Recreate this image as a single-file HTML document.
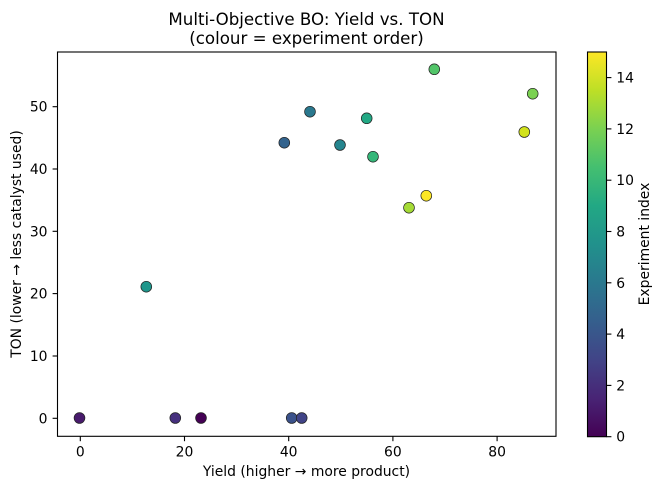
<!DOCTYPE html>
<html>
<head>
<meta charset="utf-8">
<style>
html,body{margin:0;padding:0;background:#fff;}
svg{display:block;}
text{font-family:"DejaVu Sans","Liberation Sans",sans-serif;fill:#000;}
</style>
</head>
<body>
<svg width="662" height="489" viewBox="0 0 662 489" xmlns="http://www.w3.org/2000/svg">
<defs>
<linearGradient id="vir" x1="0" y1="1" x2="0" y2="0">
<stop offset="0" stop-color="#440154"/>
<stop offset="0.1" stop-color="#482475"/>
<stop offset="0.2" stop-color="#414487"/>
<stop offset="0.3" stop-color="#355f8d"/>
<stop offset="0.4" stop-color="#2a788e"/>
<stop offset="0.5" stop-color="#21918c"/>
<stop offset="0.6" stop-color="#22a884"/>
<stop offset="0.7" stop-color="#44bf70"/>
<stop offset="0.8" stop-color="#7ad151"/>
<stop offset="0.9" stop-color="#bddf26"/>
<stop offset="1" stop-color="#fde725"/>
</linearGradient>
</defs>
<rect width="662" height="489" fill="#fff"/>

<!-- Title -->
<text x="306.5" y="25" font-size="16.67" text-anchor="middle">Multi-Objective BO: Yield vs. TON</text>
<text x="306.5" y="44" font-size="16.67" text-anchor="middle">(colour = experiment order)</text>

<!-- Points -->
<g stroke="#222" stroke-width="0.7">
<circle cx="201" cy="418" r="5.4" fill="#440154"/>
<circle cx="79.5" cy="418" r="5.4" fill="#481a6c"/>
<circle cx="175.3" cy="418" r="5.4" fill="#46307e"/>
<circle cx="291.7" cy="418" r="5.4" fill="#3b528b"/>
<circle cx="301.7" cy="418" r="5.4" fill="#414487"/>
<circle cx="284.3" cy="142.7" r="5.4" fill="#33638d"/>
<circle cx="310" cy="111.7" r="5.4" fill="#2a788e"/>
<circle cx="340" cy="145" r="5.4" fill="#25858e"/>
<circle cx="146.3" cy="286.7" r="5.4" fill="#1f968b"/>
<circle cx="366.7" cy="118.3" r="5.4" fill="#22a884"/>
<circle cx="373" cy="156.7" r="5.4" fill="#35b779"/>
<circle cx="434.3" cy="69.3" r="5.4" fill="#52c569"/>
<circle cx="532.7" cy="93.7" r="5.4" fill="#7ad151"/>
<circle cx="409" cy="207.7" r="5.4" fill="#a5db36"/>
<circle cx="524.3" cy="132" r="5.4" fill="#d2e21b"/>
<circle cx="426.3" cy="195.7" r="5.4" fill="#fde725"/>
</g>

<!-- Axes frame -->
<rect x="57.5" y="52" width="498.5" height="384.3" fill="none" stroke="#000" stroke-width="1.1"/>

<!-- X ticks -->
<g stroke="#000" stroke-width="1.1">
<line x1="80.3" y1="436.3" x2="80.3" y2="441.2"/>
<line x1="184.5" y1="436.3" x2="184.5" y2="441.2"/>
<line x1="288.7" y1="436.3" x2="288.7" y2="441.2"/>
<line x1="392.9" y1="436.3" x2="392.9" y2="441.2"/>
<line x1="497.1" y1="436.3" x2="497.1" y2="441.2"/>
</g>
<g font-size="13.9" text-anchor="middle">
<text x="80.3" y="456.5">0</text>
<text x="184.5" y="456.5">20</text>
<text x="288.7" y="456.5">40</text>
<text x="392.9" y="456.5">60</text>
<text x="497.1" y="456.5">80</text>
</g>
<text x="306.5" y="476" font-size="13.9" text-anchor="middle">Yield (higher → more product)</text>

<!-- Y ticks -->
<g stroke="#000" stroke-width="1.1">
<line x1="52.6" y1="418.3" x2="57.5" y2="418.3"/>
<line x1="52.6" y1="356" x2="57.5" y2="356"/>
<line x1="52.6" y1="293.6" x2="57.5" y2="293.6"/>
<line x1="52.6" y1="231.3" x2="57.5" y2="231.3"/>
<line x1="52.6" y1="169" x2="57.5" y2="169"/>
<line x1="52.6" y1="106.7" x2="57.5" y2="106.7"/>
</g>
<g font-size="13.9" text-anchor="end">
<text x="47.5" y="423.3">0</text>
<text x="47.5" y="361">10</text>
<text x="47.5" y="298.6">20</text>
<text x="47.5" y="236.3">30</text>
<text x="47.5" y="174">40</text>
<text x="47.5" y="111.7">50</text>
</g>
<text transform="translate(21,244) rotate(-90)" font-size="13.9" text-anchor="middle">TON (lower → less catalyst used)</text>

<!-- Colorbar -->
<rect x="587.5" y="52" width="19" height="384.7" fill="url(#vir)"/>
<rect x="587.5" y="52" width="19" height="384.7" fill="none" stroke="#000" stroke-width="1.1"/>
<g stroke="#000" stroke-width="1.1">
<line x1="606.5" y1="436.7" x2="611.4" y2="436.7"/>
<line x1="606.5" y1="385.4" x2="611.4" y2="385.4"/>
<line x1="606.5" y1="334.1" x2="611.4" y2="334.1"/>
<line x1="606.5" y1="282.8" x2="611.4" y2="282.8"/>
<line x1="606.5" y1="231.5" x2="611.4" y2="231.5"/>
<line x1="606.5" y1="180.2" x2="611.4" y2="180.2"/>
<line x1="606.5" y1="128.9" x2="611.4" y2="128.9"/>
<line x1="606.5" y1="77.6" x2="611.4" y2="77.6"/>
</g>
<g font-size="13.9">
<text x="616.3" y="441.7">0</text>
<text x="616.3" y="390.4">2</text>
<text x="616.3" y="339.1">4</text>
<text x="616.3" y="287.8">6</text>
<text x="616.3" y="236.5">8</text>
<text x="616.3" y="185.2">10</text>
<text x="616.3" y="133.9">12</text>
<text x="616.3" y="82.6">14</text>
</g>
<text transform="translate(649,244) rotate(-90)" font-size="13.9" text-anchor="middle">Experiment index</text>
</svg>
</body>
</html>
